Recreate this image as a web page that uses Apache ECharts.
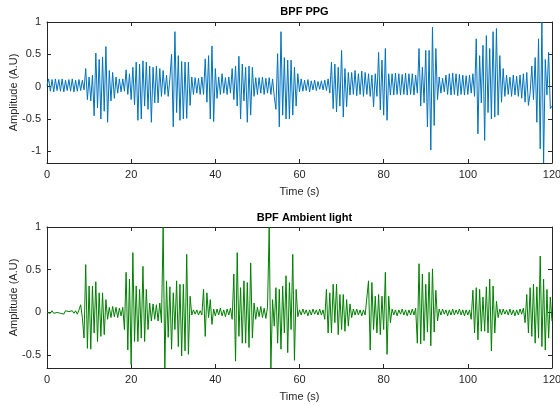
<!DOCTYPE html>
<html>
<head>
<meta charset="utf-8">
<script src="https://cdn.jsdelivr.net/npm/echarts@6/dist/echarts.min.js"></script>
<style>
  html, body { margin: 0; padding: 0; background: #fff; }
  #chart { width: 560px; height: 405px; }
</style>
</head>
<body>
<div id="chart"></div>
<script>
// Band-pass filtered signals, one sample every 0.4 s, rows of 10 s each
const SAMPLE_STEP = 0.4;

const ppgRows = [
  [0.02,0.12,-0.07,0.11,-0.08,0.12,-0.06,0.11,-0.07,0.12,-0.08,0.10,-0.06,0.11,-0.07,0.12,-0.08,0.10,-0.07,0.11,-0.06,0.10,-0.05,0.28,-0.20],
  [0.15,-0.22,0.18,-0.45,0.52,-0.33,0.42,-0.50,0.46,-0.38,0.62,-0.55,0.25,-0.22,0.22,-0.18,0.15,-0.10,0.12,-0.08,0.12,-0.07,0.26,-0.12,0.20],
  [-0.20,0.30,-0.28,0.38,-0.52,0.35,-0.50,0.40,-0.30,0.38,-0.35,0.32,-0.55,0.30,-0.25,0.32,-0.25,0.28,-0.15,0.25,-0.12,0.18,-0.15,0.12,0.50],
  [-0.62,0.85,-0.40,0.48,-0.52,0.39,-0.50,0.38,-0.49,0.38,-0.29,0.15,-0.12,0.14,-0.10,0.13,-0.12,0.15,-0.12,0.43,-0.24,0.48,-0.50,0.63,-0.54],
  [0.28,-0.18,0.15,-0.12,0.20,-0.10,0.14,-0.12,0.15,-0.10,0.28,-0.20,0.32,-0.30,0.47,-0.50,0.35,-0.22,0.30,-0.55,0.32,-0.44,0.30,-0.15,0.14],
  [-0.12,0.14,-0.10,0.15,-0.12,0.13,-0.10,0.14,-0.12,0.12,-0.15,-0.35,0.51,-0.62,0.85,-0.44,0.45,-0.50,0.41,-0.50,0.41,-0.44,0.30,-0.30,0.20],
  [-0.08,0.12,-0.07,0.10,-0.06,0.11,-0.08,0.09,-0.05,0.10,-0.06,0.08,-0.04,0.09,-0.05,0.10,-0.06,0.12,-0.10,0.38,-0.34,0.35,-0.39,0.30,-0.30],
  [0.56,-0.47,0.28,-0.31,0.22,-0.13,0.22,-0.12,0.25,-0.14,0.20,-0.12,0.24,-0.15,0.22,-0.12,0.20,-0.15,0.18,-0.31,0.20,-0.15,0.53,-0.36,0.41],
  [-0.44,0.59,-0.52,0.20,-0.13,0.20,-0.13,0.21,-0.12,0.20,-0.13,0.19,-0.12,0.21,-0.13,0.20,-0.12,0.20,-0.13,0.18,-0.10,0.59,-0.30,0.30,-0.25],
  [0.56,-0.62,0.56,-0.98,0.92,-0.60,0.59,-0.20,0.15,-0.10,0.13,-0.08,0.18,-0.12,0.20,-0.13,0.21,-0.12,0.20,-0.14,0.19,-0.12,0.18,-0.13,0.17],
  [-0.12,0.18,-0.10,0.20,-0.15,0.74,-0.73,0.48,-0.25,0.64,-0.83,0.79,-0.40,0.59,-0.50,0.85,-0.47,0.90,-0.44,0.48,-0.24,0.28,-0.15,0.18,-0.12],
  [0.15,-0.15,0.18,-0.13,0.16,-0.15,0.18,-0.18,0.20,-0.24,0.22,-0.29,-0.10,0.32,-0.20,0.45,-0.55,0.74,-0.96,1.00,-1.18,0.42,-0.13,0.53,-0.34,-0.30]
];

const ambientRows = [
  [0.00,0.01,-0.01,0.02,-0.01,0.01,0.00,0.02,-0.01,0.01,-0.02,0.02,0.00,0.01,-0.01,0.02,-0.01,0.02,-0.02,0.03,0.09,-0.06,-0.30,0.56,-0.42],
  [0.31,-0.43,0.31,-0.24,0.36,-0.34,0.23,-0.28,0.23,-0.26,0.15,-0.08,0.06,-0.06,0.07,-0.05,0.06,-0.06,0.05,-0.04,0.06,-0.20,0.47,-0.44,0.39],
  [-0.61,0.70,-0.34,0.31,-0.34,0.27,-0.30,0.54,-0.34,0.27,-0.20,0.11,-0.10,0.10,-0.08,0.09,-0.10,0.11,-0.12,1.00,-0.65,0.37,-0.29,0.30,-0.43],
  [0.23,-0.20,0.37,-0.40,0.33,-0.51,0.33,-0.45,0.68,-0.49,0.19,-0.03,0.03,-0.02,0.03,-0.03,0.02,-0.03,0.27,-0.28,0.23,-0.06,0.15,-0.14,0.04],
  [-0.04,0.04,-0.03,0.05,-0.04,0.03,-0.05,0.04,-0.03,0.05,-0.08,0.45,-0.57,0.70,-0.28,0.29,-0.36,0.37,-0.36,0.35,-0.41,0.58,-0.30,0.11,-0.08],
  [0.06,-0.05,0.07,-0.06,0.05,-0.07,0.06,1.00,-0.65,0.15,-0.16,0.29,-0.36,0.27,-0.43,0.31,-0.24,0.43,-0.47,0.35,-0.20,0.68,-0.56,0.27,-0.05],
  [0.03,-0.03,0.04,-0.02,0.03,-0.04,0.03,-0.03,0.04,-0.02,0.03,-0.03,0.04,-0.03,0.03,-0.08,0.27,-0.24,0.23,-0.24,0.33,-0.12,0.33,-0.26,0.21],
  [-0.20,0.21,-0.22,0.15,-0.16,0.10,-0.06,0.04,-0.03,0.04,-0.03,0.03,-0.04,0.03,-0.03,-0.05,0.37,-0.44,0.35,-0.20,0.19,-0.24,0.21,-0.26,0.19],
  [-0.20,0.47,-0.49,0.19,-0.12,0.04,-0.03,0.03,-0.04,0.03,-0.02,0.04,-0.03,0.03,-0.04,0.03,-0.03,0.04,-0.03,0.05,-0.36,0.57,-0.37,0.45,-0.33],
  [0.33,-0.23,0.47,-0.39,0.51,-0.23,0.26,-0.10,0.04,-0.03,0.04,-0.02,0.03,-0.04,0.03,-0.03,0.04,-0.03,0.03,-0.02,0.04,-0.03,0.03,-0.04,0.03],
  [-0.03,0.03,-0.08,0.26,-0.24,0.29,-0.32,0.27,-0.22,0.18,-0.22,0.30,-0.24,0.39,-0.45,0.31,-0.24,0.13,-0.06,0.04,-0.03,0.04,-0.02,0.03,-0.03],
  [0.04,-0.03,0.03,-0.04,0.03,-0.03,0.04,-0.02,0.05,-0.12,0.21,-0.24,0.29,-0.28,0.33,-0.36,0.30,-0.30,0.66,-0.40,0.39,-0.44,0.27,-0.30,0.18,-0.10]
];

const timeTicks = [0, 20, 40, 60, 80, 100, 120];
const ppgTicks = [-1, -0.5, 0, 0.5, 1];
const ambientTicks = [-0.5, 0, 0.5, 1];

const titles = ['BPF PPG', 'BPF Ambient light'];
const xLabel = 'Time (s)';
const yLabel = 'Amplitude (A.U)';

// Turn the rows into [time, amplitude] pairs on the sample grid
function toSeries(rows) {
  const flat = [].concat(...rows);
  return flat.map((v, i) => [+(i * SAMPLE_STEP).toFixed(2), v]);
}

const FONT = 'Liberation Sans, Arial, Helvetica, sans-serif';
const INK = '#262626';

const plotLeft = 47, plotRight = 8, plotHeight = 141;
const grids = [
  { left: plotLeft, right: plotRight, top: 22, height: plotHeight, outerBoundsMode: 'none', containLabel: false },
  { left: plotLeft, right: plotRight, top: 227, height: plotHeight, outerBoundsMode: 'none', containLabel: false }
];

function xAxes(gridIndex) {
  const base = {
    type: 'value', gridIndex, min: timeTicks[0], max: timeTicks[timeTicks.length - 1],
    interval: 20, splitLine: { show: false },
    axisLine: { show: true, onZero: false, lineStyle: { color: INK, width: 1 } },
    axisTick: { show: true, inside: true, length: 4, lineStyle: { color: INK } }
  };
  return [
    Object.assign({}, base, {
      position: 'bottom',
      axisLabel: { color: INK, fontSize: 11, fontFamily: FONT, margin: 6 },
      name: xLabel, nameLocation: 'middle', nameGap: 23, nameMoveOverlap: false,
      nameTextStyle: { color: INK, fontSize: 11, fontFamily: FONT }
    }),
    Object.assign({}, base, { position: 'top', axisLabel: { show: false } })
  ];
}

function yAxes(gridIndex, min, max, ticks) {
  const base = {
    type: 'value', gridIndex, min, max, splitLine: { show: false },
    axisLine: { show: true, onZero: false, lineStyle: { color: INK, width: 1 } },
    axisTick: { show: true, inside: true, length: 4, customValues: ticks, lineStyle: { color: INK } }
  };
  return [
    Object.assign({}, base, {
      position: 'left',
      axisLabel: { color: INK, fontSize: 11, fontFamily: FONT, margin: 6, customValues: ticks },
      name: yLabel, nameLocation: 'middle', nameGap: 28, nameRotate: 90, nameMoveOverlap: false,
      nameTextStyle: { color: INK, fontSize: 11, fontFamily: FONT }
    }),
    Object.assign({}, base, { position: 'right', axisLabel: { show: false } })
  ];
}

const chart = echarts.init(document.getElementById('chart'), null, { renderer: 'canvas' });
chart.setOption({
  animation: false,
  backgroundColor: '#ffffff',
  title: [
    { text: titles[0], left: 299.5, top: 1, textAlign: 'center',
      textStyle: { fontSize: 11, fontWeight: 'bold', color: '#000', fontFamily: FONT } },
    { text: titles[1], left: 299.5, top: 207, textAlign: 'center',
      textStyle: { fontSize: 11, fontWeight: 'bold', color: '#000', fontFamily: FONT } }
  ],
  grid: grids,
  xAxis: [].concat(xAxes(0), xAxes(1)),
  yAxis: [].concat(yAxes(0, -1.18, 1, ppgTicks), yAxes(1, -0.65, 1, ambientTicks)),
  series: [
    { type: 'line', xAxisIndex: 0, yAxisIndex: 0, data: toSeries(ppgRows),
      showSymbol: false, clip: true, lineStyle: { color: '#0072BD', width: 1 } },
    { type: 'line', xAxisIndex: 2, yAxisIndex: 2, data: toSeries(ambientRows),
      showSymbol: false, clip: true, lineStyle: { color: '#008000', width: 1 } }
  ]
});
</script>
</body>
</html>
